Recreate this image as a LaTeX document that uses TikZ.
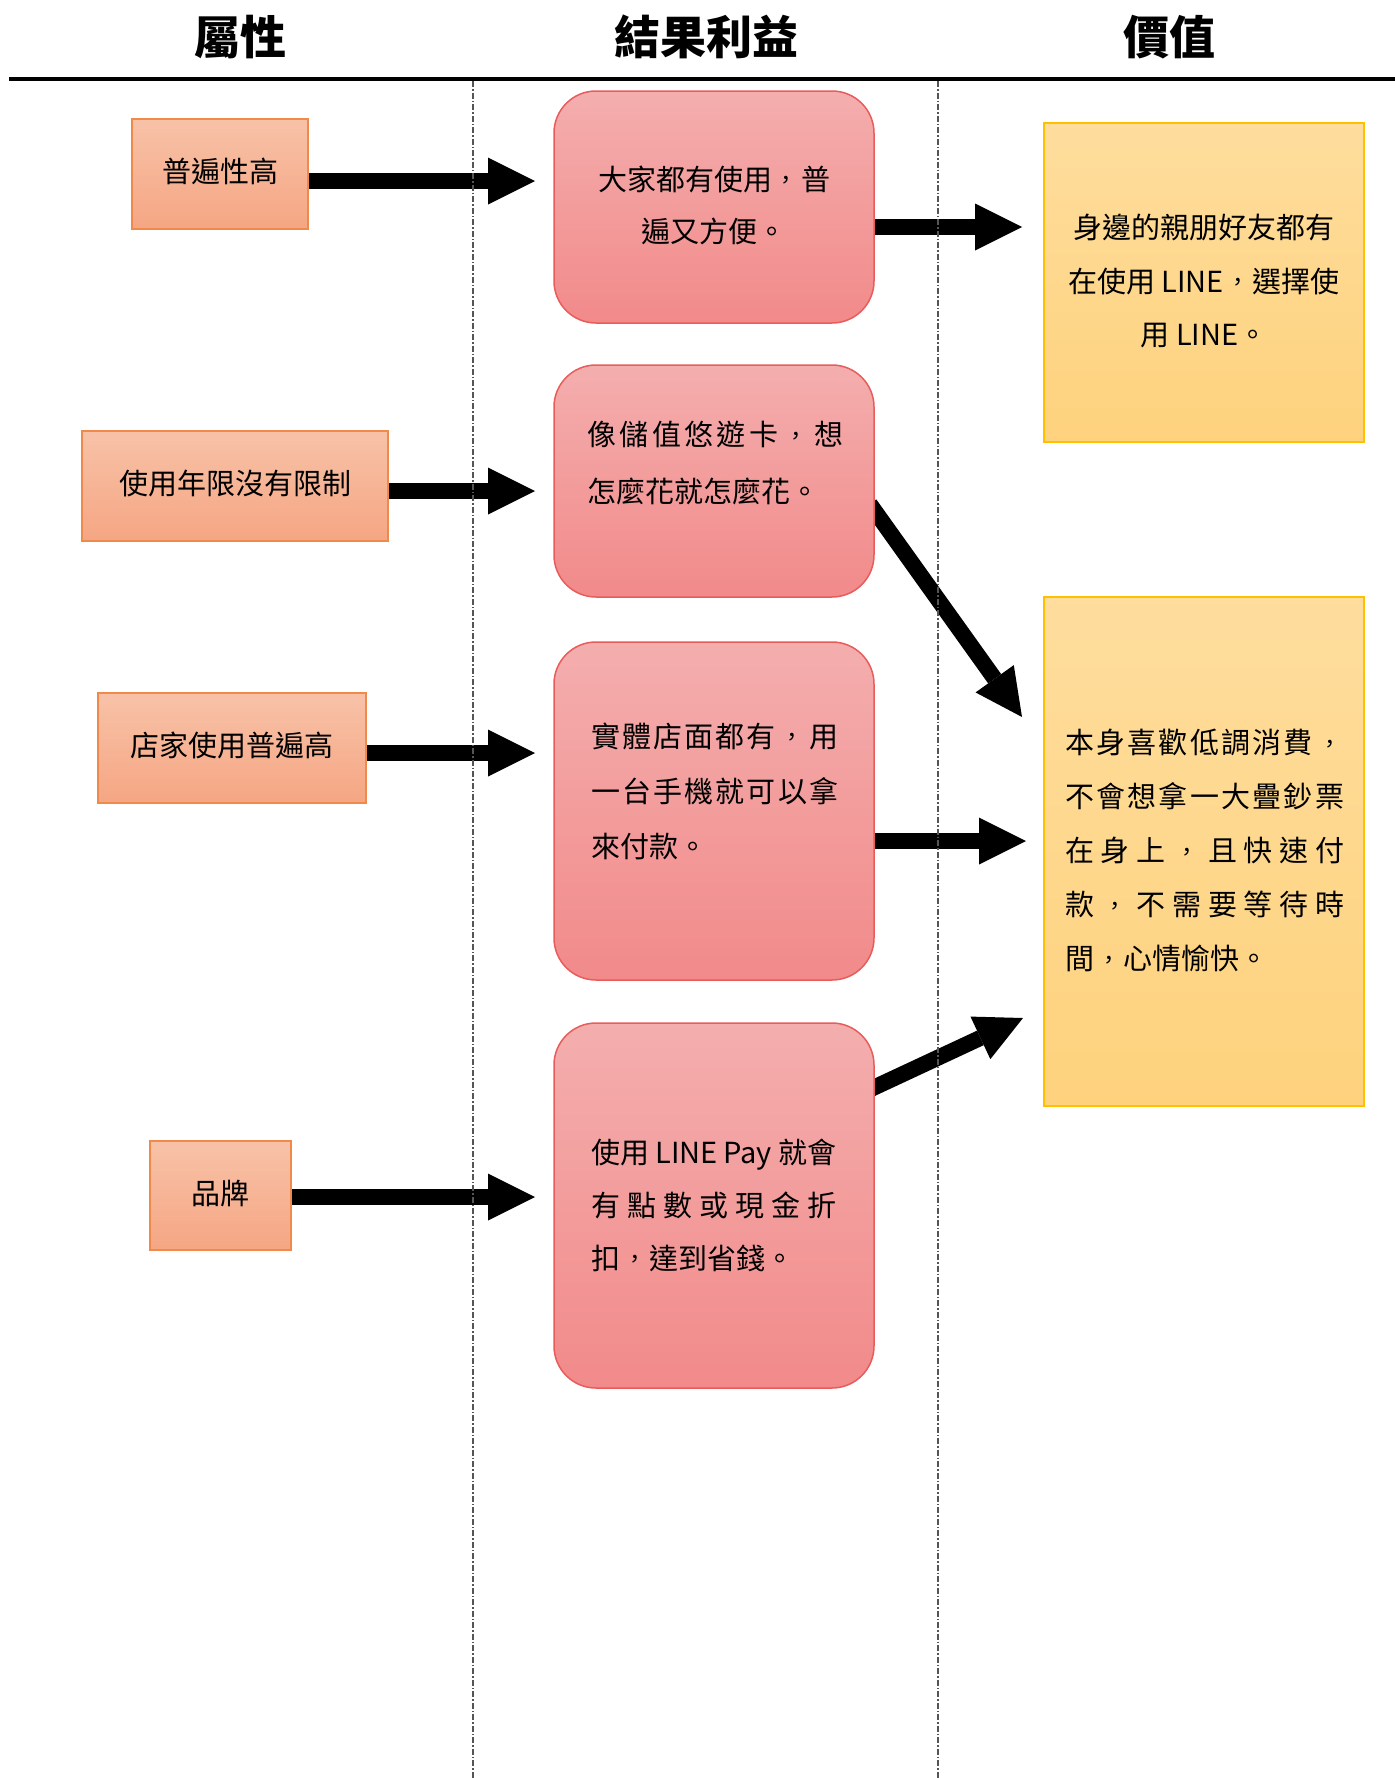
\documentclass[tikz,border=0pt]{standalone}
\usepackage{graphicx}
\usepackage{fontspec}
\setmainfont{Noto Sans CJK TC}[Script=CJK, Language=Chinese Traditional]
\usetikzlibrary{arrows.meta,backgrounds}
\definecolor{lTop}{HTML}{F8C2A8}
\definecolor{lBot}{HTML}{F5A683}
\definecolor{lLine}{HTML}{F08A4B}
\definecolor{mTop}{HTML}{F4AEAE}
\definecolor{mBot}{HTML}{F28A8A}
\definecolor{mLine}{HTML}{E85C5C}
\definecolor{rTop}{HTML}{FEDD9D}
\definecolor{rBot}{HTML}{FED27D}
\definecolor{rLine}{HTML}{FFC000}
\definecolor{divcol}{HTML}{555555}
\def\jlA#1{\ifx#1\relax\else#1\expandafter\jlB\fi}
\def\jlB#1{\ifx#1\relax\else\hfill#1\expandafter\jlB\fi}
\newcommand\jline[2]{\makebox[#1][s]{\jlA#2\relax}}
\newcommand\zc{\makebox[1em]{\raisebox{0.06em}{\scalebox{0.8}{，}}}}
\tikzset{
  hdr/.style={inner sep=0pt, font=\bfseries\fontsize{46}{50}\selectfont},
  attr/.style={shade, top color=lTop, bottom color=lBot, draw=lLine, line width=1.5pt,
    inner sep=0pt, text height=21pt, text depth=4pt, font=\fontsize{29}{54}\selectfont},
  benef/.style={shade, top color=mTop, bottom color=mBot, draw=mLine, line width=1.5pt,
    rounded corners=42pt, minimum width=320pt, inner sep=0pt},
  valbox/.style={shade, top color=rTop, bottom color=rBot, draw=rLine, line width=1.5pt,
    minimum width=320pt, inner sep=0pt},
  txt/.style={inner sep=0pt, font=\fontsize{29}{54}\selectfont},
  divider/.style={divcol, line width=1.2pt, dash pattern=on 6pt off 2pt on 1.5pt off 2pt},
  bigarrow/.style={line width=16pt, -{Triangle[length=47pt 0 0,width=47pt 0 0,line width=0pt 0 0]}}
}
\begin{document}
\begin{tikzpicture}[x=1pt,y=-1pt]
\useasboundingbox (0,0) rectangle (1395,1778);
% headers
\node[hdr] (h1) at (240,37) {屬性};
\node[hdr] (h2) at (706,37) {結果利益};
\node[hdr] (h3) at (1169,37) {價值};
\coordinate (rl) at (9,79);
\coordinate (rr) at (1395,79);
\draw[line width=4.5pt] (rl) -- (rr);
% dividers
\coordinate (d1t) at (473,81);
\coordinate (d1b) at (473,1778);
\coordinate (d2t) at (938,81);
\coordinate (d2b) at (938,1778);
\draw[divider] (d1t) -- (d1b);
\draw[divider] (d2t) -- (d2b);
% attribute boxes
\node[attr, minimum width=176pt, minimum height=110pt] (l1) at (220,174) {普遍性高};
\node[attr, minimum width=306pt, minimum height=110pt] (l2) at (235,486) {使用年限沒有限制};
\node[attr, minimum width=268pt, minimum height=110pt] (l3) at (232,748) {店家使用普遍高};
\node[attr, minimum width=141pt, minimum height=109pt] (l4) at (220.5,1195.5) {品牌};
% benefit boxes
\node[benef, minimum height=232pt] (m1) at (714,207) {};
\node[benef, minimum height=232pt] (m2) at (714,481) {};
\node[benef, minimum height=338pt] (m3) at (714,811) {};
\node[benef, minimum height=365pt] (m4) at (714,1205.5) {};
\node[txt, align=center, font=\fontsize{29}{52}\selectfont] (m1t) at (714,205) {大家都有使用\zc 普\\遍又方便。};
\node[txt, align=left, anchor=west, font=\fontsize{29}{57}\selectfont] (m2t) at (587,463.5)
  {\jline{256pt}{像儲值悠遊卡\zc 想}\\怎麼花就怎麼花。};
\node[txt, align=left, anchor=west, font=\fontsize{29}{55}\selectfont] (m3t) at (591,791)
  {\jline{247pt}{實體店面都有\zc 用}\\\jline{247pt}{一台手機就可以拿}\\來付款。};
\node[txt, align=left, anchor=west, font=\fontsize{29}{53}\selectfont] (m4t) at (591,1205)
  {\makebox[245pt][s]{使用 LINE Pay 就會}\\\jline{245pt}{有點數或現金折}\\扣\zc 達到省錢。};
% value boxes
\node[valbox, minimum height=319pt] (r1) at (1204,282.5) {};
\node[valbox, minimum height=509pt] (r2) at (1204,851.5) {};
\node[txt, align=center, font=\fontsize{29}{53.5}\selectfont] (r1t) at (1204,281)
  {身邊的親朋好友都有\\在使用 LINE\zc 選擇使\\用 LINE。};
\node[txt, align=left, anchor=west, font=\fontsize{29}{54}\selectfont] (r2t) at (1065,851)
  {\jline{279pt}{本身喜歡低調消費\zc}\\\jline{279pt}{不會想拿一大疊鈔票}\\\jline{279pt}{在身上\zc 且快速付}\\\jline{279pt}{款\zc 不需要等待時}\\間\zc 心情愉快。};
% arrow tips
\coordinate (a1) at (535,181);
\coordinate (a2) at (535,491);
\coordinate (a3) at (535,753);
\coordinate (a4) at (535,1197);
\coordinate (a5) at (1022,227);
\coordinate (a6) at (1022,717);
\coordinate (a7) at (1026,841);
\coordinate (a8) at (1023,1018);
\begin{scope}[on background layer]
\draw[bigarrow] (l1.east |- a1) -- (a1);
\draw[bigarrow] (l2.east |- a2) -- (a2);
\draw[bigarrow] (l3.east |- a3) -- (a3);
\draw[bigarrow] (l4.east |- a4) -- (a4);
\draw[bigarrow] (m1.east |- a5) -- (a5);
\draw[bigarrow] ([xshift=-5pt,yshift=-23pt]m2.east) -- (a6);
\draw[bigarrow] (m3.east |- a7) -- (a7);
\draw[bigarrow] ([xshift=-5pt,yshift=116pt]m4.east) -- (a8);
\end{scope}
\end{tikzpicture}
\end{document}
